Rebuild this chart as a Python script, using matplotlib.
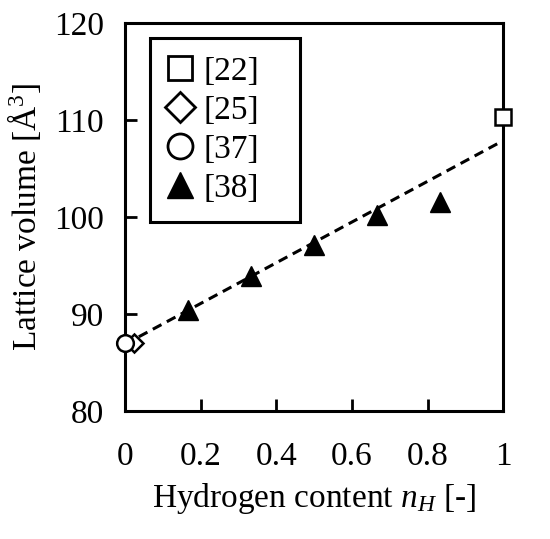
import matplotlib
matplotlib.use("Agg")
import matplotlib.pyplot as plt
from matplotlib.lines import Line2D

plt.rcParams["font.family"] = ["Liberation Serif", "DejaVu Serif"]
plt.rcParams["mathtext.fontset"] = "custom"
plt.rcParams["mathtext.rm"] = "Liberation Serif"
plt.rcParams["mathtext.it"] = "Liberation Serif:italic"

# data
x22, y22 = [1.0], [110.3]
x25, y25 = [0.025], [87.0]
x37, y37 = [0.0], [87.0]
x38 = [1 / 6, 1 / 3, 1 / 2, 2 / 3, 5 / 6]
y38 = [90.4, 93.9, 97.1, 100.2, 101.6]
fit_x = [0.0, 1.0]
fit_y = [86.9, 107.9]
labels = ["[22]", "[25]", "[37]", "[38]"]

fig = plt.figure(figsize=(5.5, 5.39), dpi=100)
ax = fig.add_axes([0.227, 0.237, 0.688, 0.72])

ax.plot(fit_x, fit_y, "k--", lw=2.2, dashes=(3.2, 2), zorder=2)
ax.plot(x22, y22, "s", ms=11, mfc="white", mec="black", mew=1.8,
        clip_on=False, zorder=3)
ax.plot(x25, y25, "D", ms=9, mfc="white", mec="black", mew=1.8,
        clip_on=False, zorder=3)
ax.plot(x37, y37, "o", ms=12, mfc="white", mec="black", mew=1.8,
        clip_on=False, zorder=4)
ax.plot(x38, y38, "^", ms=15, color="black", ls="none",
        clip_on=False, zorder=3)

ax.set_xlim(0, 1)
ax.set_ylim(80, 120)
ax.set_xticks([0, 0.2, 0.4, 0.6, 0.8, 1])
ax.set_xticklabels(["0", "0.2", "0.4", "0.6", "0.8", "1"])
ax.set_yticks([80, 90, 100, 110, 120])
ax.tick_params(direction="in", length=8.5, width=2, labelsize=24)
ax.tick_params(axis="x", pad=22)
ax.tick_params(axis="y", pad=15)
for s in ax.spines.values():
    s.set_linewidth(2.2)

ax.set_xlabel("Hydrogen content $n_H$ [-]", fontsize=24, labelpad=6)
ax.set_ylabel("Lattice volume [Å$^3$]", fontsize=24, labelpad=8)

# legend markers are drawn larger than the data markers
handles = [
    Line2D([], [], ls="none", marker="s", ms=17, mfc="white", mec="black", mew=2),
    Line2D([], [], ls="none", marker="D", ms=15, mfc="white", mec="black", mew=2),
    Line2D([], [], ls="none", marker="o", ms=18, mfc="white", mec="black", mew=2),
    Line2D([], [], ls="none", marker="^", ms=19, color="black"),
]
leg = ax.legend(handles, labels, loc="upper left",
                bbox_to_anchor=(0.066, 0.961, 0.397, 0.0), mode="expand",
                fontsize=24, frameon=True, fancybox=False, edgecolor="black",
                framealpha=1, handletextpad=0.36, labelspacing=0.25,
                borderpad=0.55, handlelength=0.7, borderaxespad=0)
leg.get_frame().set_linewidth(2.2)

fig.savefig("out.png", dpi=100)
